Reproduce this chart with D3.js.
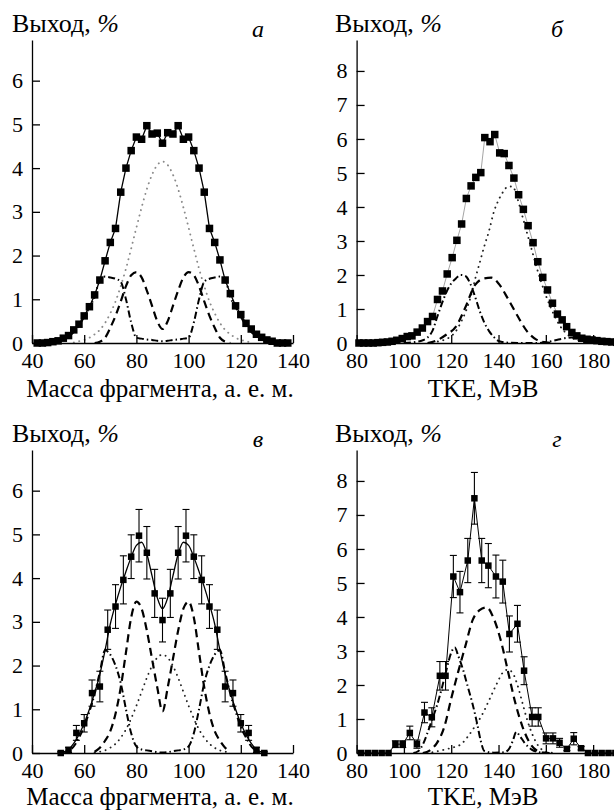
<!DOCTYPE html>
<html>
<head>
<meta charset="utf-8">
<script src="https://cdn.jsdelivr.net/npm/d3@7"></script>
<style>
  body { margin: 0; background: #fff; }
  svg text { font-family: "Liberation Serif", "Times New Roman", Times, "DejaVu Serif", serif; fill: #000; }
</style>
</head>
<body>
<svg id="chart" width="614" height="811"></svg>
<script>
// ---- panel а : mass yield, fit components ----
const massA = [42,44,46,48,50,52,54,56,58,60,62,64,66,68,70,72,74,76,78,80,82,84,86,88,90,92,94,96,98,100,102,104,106,108,110,112,114,116,118,120,122,124,126,128,130,132,134,136,138];
const yieldA = [0,0,0.01,0.03,0.05,0.11,0.17,0.30,0.43,0.62,0.83,1.10,1.44,1.88,2.30,2.62,3.45,4.00,4.40,4.71,4.66,4.97,4.78,4.80,4.57,4.81,4.78,4.97,4.66,4.71,4.40,4.00,3.45,2.62,2.30,1.90,1.44,1.13,0.85,0.65,0.45,0.32,0.20,0.13,0.07,0.04,0,0,0];
const compMassA = [46,48,50,52,54,56,58,60,62,64,66,68,70,72,74,76,78,80,82,84,86,88,90,92,94,96,98,100,102,104,106,108,110,112,114,116,118,120,122,124,126,128,130,132,134];
const dottedA = [null,null,null,null,null,0.01,0.04,0.07,0.12,0.2,0.3,0.46,0.68,0.95,1.30,1.70,2.16,2.64,3.10,3.52,3.85,4.07,4.15,4.07,3.85,3.52,3.10,2.64,2.16,1.70,1.30,0.95,0.68,0.46,0.3,0.2,0.12,0.07,0.04,0.01,null,null,null,null,null];
const dashedA = [null,null,null,null,null,null,null,null,null,0,0.03,0.12,0.35,0.62,0.95,1.3,1.55,1.62,1.5,1.2,0.85,0.5,0.32,0.5,0.85,1.2,1.5,1.62,1.55,1.3,0.95,0.62,0.35,0.12,0.03,0,null,null,null,null,null,null,null,null,null];
const dashDotA = [null,null,0.03,0.08,0.15,0.25,0.4,0.6,0.82,1.05,1.45,1.52,1.5,1.47,1.4,1.0,0.47,0.12,0.1,0.08,0.07,0.05,0.04,0.05,0.07,0.08,0.1,0.12,0.47,1.0,1.4,1.47,1.5,1.52,1.45,1.05,0.82,0.6,0.4,0.25,0.15,0.08,0.03,null,null];

// ---- panel б : TKE yield, fit components ----
const tkeB = [81,83,85,87,89,91,93,95,97,99.3,101.4,103.4,105.6,107.8,110,112.1,114.2,116.3,118.3,120.4,122.4,124.4,126.4,128.4,130.4,132.5,134.2,136.4,138.4,140.5,142.4,144.4,146.5,148.5,150.5,152.5,154.6,156.6,158.7,160.7,162.8,164.9,166.9,168.8,171,173.1,175.2,177.4,179.5,181.6,183.7,185.8,187.9,190];
const yieldB = [0,0,0,0,0.01,0.02,0.03,0.05,0.08,0.13,0.19,0.21,0.32,0.44,0.63,0.78,1.28,1.53,2.03,2.51,3.02,3.5,4.25,4.62,4.87,5.01,6.04,5.92,6.13,5.59,5.57,5.22,4.85,4.36,3.93,3.45,2.95,2.39,1.93,1.56,1.17,0.85,0.68,0.48,0.31,0.21,0.14,0.11,0.09,0.07,0.05,0.04,0.03,0.02];
const dotTkeB = [112,116,118,120,122,124,126,128,130,132,134,136,138,140,142,144,146,148,150,152,154,156,158,160,162,164,166,168,170,174,178,182];
const dottedB = [0.02,0.07,0.12,0.2,0.35,0.6,0.9,1.3,1.85,2.35,2.85,3.3,3.85,4.2,4.45,4.6,4.6,4.25,3.75,3.25,2.75,2.25,1.8,1.4,1.05,0.75,0.5,0.33,0.2,0.07,0.02,0];
const dashTkeB = [110,114,118,122,126,130,134,137,140,144,148,152,156,160,164];
const dashedB = [0,0.08,0.25,0.48,1.05,1.7,1.9,1.92,1.75,1.3,0.8,0.35,0.1,0.02,0];
const ddTkeB = [100,104,108,112,114,116,118,120,122,124,126,128,130,132,134,136,138,140,144,150,156,160,164,168,172,176,180,186];
const dashDotB = [0,0.02,0.08,0.35,0.75,1.15,1.5,1.75,1.9,2.0,1.97,1.75,1.38,0.95,0.6,0.35,0.18,0.06,0.01,0,0,0.02,0.08,0.14,0.17,0.13,0.07,0.02];

// ---- panel в : mass yield with errors ----
const massV = [51,54,57,60,63,66,69,72,75,78,81,84,87,90,93,96,99,102,105,108,111,114,117,120,123,126,129];
const yieldV = [0.0,0.07,0.46,0.68,1.37,1.52,2.82,3.35,3.96,4.49,4.97,4.58,3.65,3.04,3.65,4.58,4.97,4.49,3.96,3.35,2.82,1.52,1.37,0.68,0.46,0.07,0.0];
const errV = [0.03,0.06,0.17,0.2,0.3,0.35,0.45,0.5,0.55,0.5,0.6,0.6,0.55,0.5,0.55,0.6,0.6,0.5,0.55,0.5,0.45,0.35,0.3,0.2,0.17,0.06,0.03];
const compMassV = [50,52,54,56,58,60,62,64,66,68,70,72,74,76,78,80,82,84,86,88,90,92,94,96,98,100,102,104,106,108,110,112,114,116,118,120,122,124,126,128,130];
const fitV = [0,0.02,0.08,0.22,0.42,0.68,1.0,1.38,1.8,2.35,2.95,3.4,3.8,4.15,4.48,4.75,4.82,4.55,4.05,3.55,3.3,3.55,4.05,4.55,4.82,4.75,4.48,4.15,3.8,3.4,2.95,2.35,1.8,1.38,1.0,0.68,0.42,0.22,0.08,0.02,0];
const dashedV = [null,null,null,null,null,null,null,0.03,0.12,0.28,0.5,0.9,1.5,2.3,3.1,3.46,3.3,2.8,2.15,1.5,0.95,1.5,2.15,2.8,3.3,3.46,3.1,2.3,1.5,0.9,0.5,0.28,0.12,0.03,null,null,null,null,null,null,null];
const dashDotV = [0,0.02,0.05,0.15,0.35,0.6,0.95,1.35,1.85,2.35,2.25,2.0,1.6,1.0,0.45,0.15,0.08,0.06,0.04,0.02,0.01,0.02,0.04,0.06,0.08,0.15,0.45,1.0,1.6,2.0,2.25,2.35,1.85,1.35,0.95,0.6,0.35,0.15,0.05,0.02,0];
const dottedV = [null,null,null,null,null,null,null,0.01,0.03,0.06,0.12,0.21,0.35,0.54,0.79,1.08,1.40,1.72,1.99,2.18,2.25,2.18,1.99,1.72,1.40,1.08,0.79,0.54,0.35,0.21,0.12,0.06,0.03,0.01,null,null,null,null,null,null,null];

// ---- panel г : TKE yield with errors ----
const tkeG = [81.9,84.8,87.7,90.6,93.5,96.4,99.5,102.5,105.5,108.7,111.8,115.2,117.6,120.9,123.7,127,129.8,132.9,135.7,138.9,141.8,144.6,148,150.8,154.2,156.8,160.1,163,165.8,168.9,171.8,174.9,177.8,180.7,183.6,186.5,189.4];
const yieldG = [0,0,0,0,0,0.26,0.26,0.59,0.26,1.19,1.05,2.27,2.27,5.19,4.73,5.66,7.49,5.66,5.51,5.19,5.04,3.5,3.8,2.42,1.06,1.06,0.43,0.43,0.3,0.12,0.42,0.14,0,0,0,0,0];
const errG = [0,0,0,0,0,0.1,0.1,0.2,0.12,0.3,0.28,0.42,0.42,0.62,0.61,0.65,0.76,0.65,0.65,0.63,0.63,0.53,0.54,0.41,0.27,0.27,0.16,0.16,0.13,0.05,0.18,0.05,0,0,0,0,0];
const dashTkeG = [108,111,114,117,120,123,126,129,132,135,138,141,144,147,150,153,156,159,162];
const dashedG = [0,0.08,0.3,0.75,1.6,2.4,3.15,3.9,4.2,4.28,3.95,3.3,2.4,1.5,0.8,0.32,0.08,0.01,0];
const ddTkeG = [104,106,108,110,112,114,116,118,120,121.5,123,125,127,129,131,132.5,134,138,142,144,146,147.5,149,151,154,157,160];
const dashDotG = [0,0.05,0.25,0.6,1.0,1.4,1.9,2.45,2.95,3.1,2.85,2.45,1.95,1.45,0.85,0.35,0.06,0.01,0.02,0.08,0.35,0.62,0.5,0.3,0.1,0.02,0];
const dotTkeG = [112,116,120,124,127,130,133,136,139,142,144,146,148,150,152,154,156,158,160,164];
const dottedG = [0.02,0.08,0.15,0.25,0.48,0.78,1.12,1.55,2.0,2.38,2.45,2.35,2.0,1.5,1.0,0.6,0.3,0.12,0.04,0];

const massTicks = [40,60,80,100,120,140];
const tkeTicks = [80,100,120,140,160,180];

const FONT = "'Liberation Serif', 'Times New Roman', Times, serif";
const svg = d3.select("#chart");
const zip = (xs, ys) => xs.map((x, i) => ({ x: x, v: ys[i] }));

const STYLE = {
  dashed:  { width: 2.2, dash: "8,5", color: "#000" },
  dashDot: { width: 2.0, dash: "7,3,1.5,3", color: "#000" },
  dotted:  { width: 1.9, dash: "0.1,5.5", color: "#222", cap: "round" }
};

function drawPanel(p) {
  const g = svg.append("g").attr("transform", `translate(0,${p.oy})`);
  const x = d3.scaleLinear().domain(p.xDomain).range(p.xRange);
  const y = d3.scaleLinear().domain([0, p.yMax]).range([343, 40]);

  // components of the fit
  p.comps.forEach(c => {
    const st = Object.assign({}, STYLE[c.kind], c.style || {});
    const line = d3.line()
      .defined(d => d.v != null)
      .x(d => x(d.x)).y(d => y(d.v))
      .curve(d3.curveMonotoneX);
    g.append("path")
      .attr("d", line(zip(c.x, c.y)))
      .attr("fill", "none")
      .attr("stroke", st.color)
      .attr("stroke-width", st.width)
      .attr("stroke-dasharray", st.dash)
      .attr("stroke-linecap", st.cap || "butt");
  });

  // solid line
  const sl = p.solid;
  g.append("path")
    .attr("d", d3.line().x(d => x(d.x)).y(d => y(d.v))
      .curve(sl.smooth ? d3.curveMonotoneX : d3.curveLinear)(zip(sl.x, sl.y)))
    .attr("fill", "none")
    .attr("stroke", sl.color)
    .attr("stroke-width", sl.width);

  const pts = p.points.x.map((xv, i) => ({ x: xv, v: p.points.y[i], e: p.points.err ? p.points.err[i] : 0 }));

  // error bars
  if (p.points.err) {
    const eb = g.append("g").attr("stroke", "#000").attr("stroke-width", 1.1);
    pts.filter(d => d.e > 0).forEach(d => {
      const cx = x(d.x), y1 = y(d.v + d.e), y2 = y(Math.max(0, d.v - d.e));
      eb.append("line").attr("x1", cx).attr("x2", cx).attr("y1", y1).attr("y2", y2);
      eb.append("line").attr("x1", cx - 3.5).attr("x2", cx + 3.5).attr("y1", y1).attr("y2", y1);
      eb.append("line").attr("x1", cx - 3.5).attr("x2", cx + 3.5).attr("y1", y2).attr("y2", y2);
    });
  }

  // squares
  const s = p.sq;
  g.append("g").selectAll("rect").data(pts).join("rect")
    .attr("x", d => x(d.x) - s / 2)
    .attr("y", d => y(d.v) - s / 2)
    .attr("width", s).attr("height", s)
    .attr("fill", "#000");

  // axes, ticks pointing inward
  const xAxis = d3.axisBottom(x).tickValues(p.xTicks).tickFormat(d3.format("d"))
    .tickSize(-8).tickSizeOuter(0).tickPadding(9);
  const yAxis = d3.axisLeft(y).tickValues(d3.range(0, Math.floor(p.yMax) + 1)).tickFormat(d3.format("d"))
    .tickSize(-8).tickSizeOuter(0).tickPadding(9);

  const gx = g.append("g").attr("transform", "translate(0,343)").call(xAxis);
  const gy = g.append("g").attr("transform", `translate(${p.xRange[0]},0)`).call(yAxis);
  [gx, gy].forEach(a => {
    a.attr("font-family", FONT).attr("font-size", 22);
    a.selectAll("path, line").attr("stroke", "#000").attr("stroke-width", 1.3);
  });

  // titles
  const yt = g.append("text").attr("x", p.yTitleX).attr("y", 32).attr("font-size", 26);
  yt.append("tspan").text("Выход, ");
  yt.append("tspan").attr("font-style", "italic").text("%");

  g.append("text").attr("x", p.letterX).attr("y", 37)
    .attr("font-size", 24).attr("font-style", "italic")
    .attr("text-anchor", "middle").text(p.letter);

  g.append("text").attr("x", p.xTitleX).attr("y", p.xTitleY)
    .attr("font-size", 25).attr("text-anchor", "middle").text(p.xTitle);
}

const massPanel = { xDomain: [40, 140], xRange: [32, 293], yMax: 6.93, xTicks: massTicks,
  yTitleX: 12, letterX: 258, xTitleX: 160, xTitle: "Масса фрагмента, а. е. м." };
const tkePanel = { xDomain: [80, 190], xRange: [356.6, 616.8], yMax: 8.91, xTicks: tkeTicks,
  yTitleX: 335, letterX: 557, xTitleX: 483, xTitle: "TKE, МэВ" };

drawPanel(Object.assign({}, massPanel, {
  oy: 0, xTitleY: 397, letter: "а", sq: 7.5,
  points: { x: massA, y: yieldA },
  solid: { x: massA, y: yieldA, color: "#000", width: 1.3 },
  comps: [
    { kind: "dotted", x: compMassA, y: dottedA, style: { color: "#8a8a8a" } },
    { kind: "dashed", x: compMassA, y: dashedA },
    { kind: "dashDot", x: compMassA, y: dashDotA }
  ]
}));

drawPanel(Object.assign({}, tkePanel, {
  oy: 0, xTitleY: 397, letter: "б", sq: 7.5,
  points: { x: tkeB, y: yieldB },
  solid: { x: tkeB, y: yieldB, color: "#9a9a9a", width: 0.9 },
  comps: [
    { kind: "dotted", x: dotTkeB, y: dottedB },
    { kind: "dashed", x: dashTkeB, y: dashedB },
    { kind: "dashDot", x: ddTkeB, y: dashDotB }
  ]
}));

drawPanel(Object.assign({}, massPanel, {
  oy: 410, xTitleY: 395, letter: "в", sq: 6.5,
  points: { x: massV, y: yieldV, err: errV },
  solid: { x: compMassV, y: fitV, color: "#000", width: 1.3, smooth: true },
  comps: [
    { kind: "dotted", x: compMassV, y: dottedV },
    { kind: "dashed", x: compMassV, y: dashedV },
    { kind: "dashDot", x: compMassV, y: dashDotV }
  ]
}));

drawPanel(Object.assign({}, tkePanel, {
  oy: 410, xTitleY: 395, letter: "г", sq: 6.5,
  points: { x: tkeG, y: yieldG, err: errG },
  solid: { x: tkeG, y: yieldG, color: "#000", width: 1.0 },
  comps: [
    { kind: "dotted", x: dotTkeG, y: dottedG },
    { kind: "dashed", x: dashTkeG, y: dashedG },
    { kind: "dashDot", x: ddTkeG, y: dashDotG }
  ]
}));
</script>
</body>
</html>
